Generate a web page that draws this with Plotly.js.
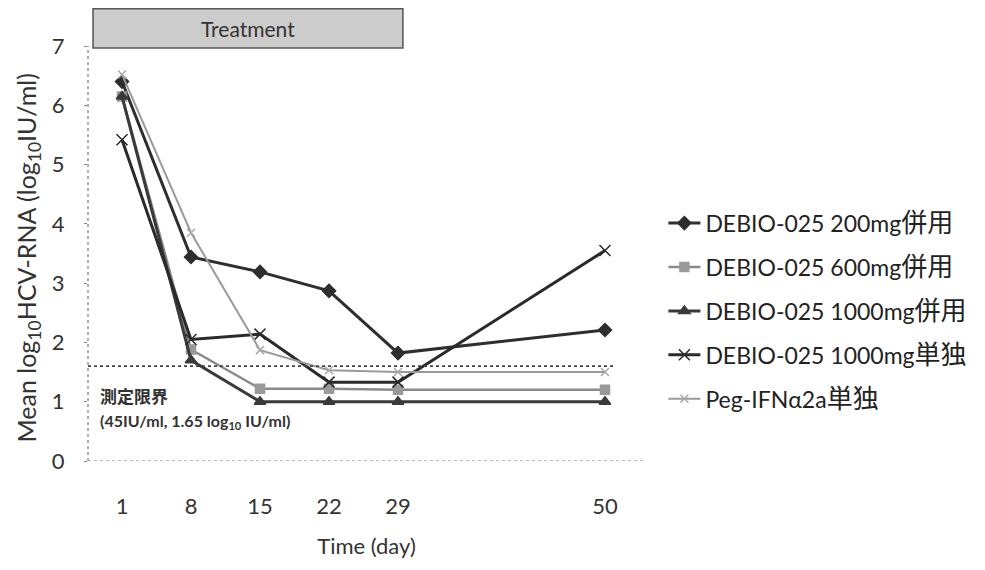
<!DOCTYPE html>
<html>
<head>
<meta charset="utf-8">
<script src="https://cdn.plot.ly/plotly-3.0.1.min.js"></script>
<style>html,body{margin:0;padding:0;background:#fff;}#chart{width:985px;height:570px;}</style>
</head>
<body>
<div id="chart"></div>
<script>
// Data
const days = [1, 8, 15, 22, 29, 50];
const seriesNames = [
  "DEBIO-025 200mg併用",
  "DEBIO-025 600mg併用",
  "DEBIO-025 1000mg併用",
  "DEBIO-025 1000mg単独",
  "Peg-IFNα2a単独"
];
const debio200 = [6.40, 3.44, 3.19, 2.87, 1.82, 2.21];
const debio600 = [6.15, 1.88, 1.22, 1.22, 1.20, 1.20];
const debio1000 = [6.15, 1.70, 1.00, 1.00, 1.00, 1.00];
const debio1000mono = [5.42, 2.05, 2.14, 1.33, 1.33, 3.55];
const pegIFN = [6.52, 3.85, 1.87, 1.53, 1.50, 1.50];
const limitValue = 1.6;
const xTicks = [1, 8, 15, 22, 29, 50];
const yTicks = [0, 1, 2, 3, 4, 5, 6, 7];

const FONT = "Lato, 'Noto Sans CJK JP', sans-serif";
const dark = "#333333";

// legend label: CJK run drawn slightly larger, as in the original
function label(name) {
  return name.replace(/([\u3000-\u9fff]+)/g, '<span style="font-size:26px">$1</span>');
}

function tr(name, y, color, symbol, msize, lw, mcolor) {
  return {
    type: "scatter", mode: "lines+markers", name: label(name), x: days, y: y,
    legendgroup: name,
    line: {color: color, width: lw},
    marker: {symbol: symbol, size: msize, color: mcolor || color, line: {color: mcolor || color, width: 1.5}}
  };
}

const data = [
  tr(seriesNames[0], debio200, "#2e2e2e", "diamond", 10, 3),
  tr(seriesNames[1], debio600, "#8a8a8a", "square", 9, 2.5, "#9a9a9a"),
  tr(seriesNames[2], debio1000, "#3a3a3a", "triangle-up", 10, 3),
  tr(seriesNames[3], debio1000mono, "#2a2a2a", "x-thin-open", 11, 3),
  tr(seriesNames[4], pegIFN, "#9a9a9a", "x-thin-open", 8, 2, "#aaaaaa")
];

const layout = {
  width: 985, height: 570,
  margin: {l: 88, r: 340, t: 46, b: 109},
  paper_bgcolor: "#fff", plot_bgcolor: "#fff",
  font: {family: FONT, color: dark, size: 20},
  showlegend: true,
  legend: {
    x: 1.033, y: 0.625, xanchor: "left", yanchor: "top",
    font: {family: FONT, size: 23, color: "#222"},
    tracegroupgap: 11, itemwidth: 32, bgcolor: "rgba(0,0,0,0)"
  },
  xaxis: {
    range: [-2.45, 54.06], tickvals: xTicks, ticktext: xTicks.map(String),
    showgrid: false, zeroline: false, showline: false, ticks: "",
    ticklabelstandoff: 30,
    tickfont: {family: FONT, size: 22, color: dark},
    title: {text: "Time (day)", font: {family: FONT, size: 22, color: dark}, standoff: 20}
  },
  yaxis: {
    range: [0, 7], tickvals: yTicks, showgrid: false, zeroline: false, showline: false,
    ticks: "outside", ticklen: 3, tickcolor: "#888", tickwidth: 1,
    tickfont: {family: FONT, size: 22, color: dark},
    ticklabelstandoff: 15
  },
  shapes: [
    // y axis dotted
    {type: "line", xref: "paper", yref: "y", x0: 0, x1: 0, y0: 0, y1: 7, line: {color: "#777", width: 1.2, dash: "dot"}},
    // x axis dotted
    {type: "line", xref: "paper", yref: "y", x0: 0, x1: 1, y0: 0, y1: 0, line: {color: "#777", width: 1.2, dash: "dot"}},
    // detection limit
    {type: "line", xref: "paper", yref: "y", x0: 0, x1: 0.945, y0: limitValue, y1: limitValue, line: {color: "#444", width: 1.8, dash: "dot"}},
    // treatment box
    {type: "rect", xref: "x", yref: "paper", x0: -1.94, x1: 29.5, y0: 0.995, y1: 1.09,
     fillcolor: "#cccccc", line: {color: "#555", width: 1.5}, layer: "below"}
  ],
  annotations: [
    {text: "Mean log<sub>10</sub>HCV-RNA (log<sub>10</sub>IU/ml)", xref: "paper", yref: "paper",
     x: -0.108, y: 0.49, xanchor: "center", yanchor: "middle", textangle: -90, showarrow: false,
     font: {family: FONT, size: 25, color: dark}},
    {text: "Treatment", xref: "x", yref: "paper", x: 13.8, y: 1.042, xanchor: "center", yanchor: "middle", showarrow: false,
     font: {family: FONT, size: 21, color: "#333"}},
    {text: "<b>測定限界</b>", xref: "paper", yref: "y", x: 0.018, y: 1.08, xanchor: "left", yanchor: "middle", showarrow: false,
     font: {family: FONT, size: 17, color: "#333"}},
    {text: "<b>(45IU/ml, 1.65 log<sub>10</sub> IU/ml)</b>", xref: "paper", yref: "y", x: 0.018, y: 0.66, xanchor: "left", yanchor: "middle", showarrow: false,
     font: {family: FONT, size: 16, color: "#333"}}
  ]
};

Plotly.newPlot("chart", data, layout, {displayModeBar: false, staticPlot: true});
</script>
</body>
</html>
